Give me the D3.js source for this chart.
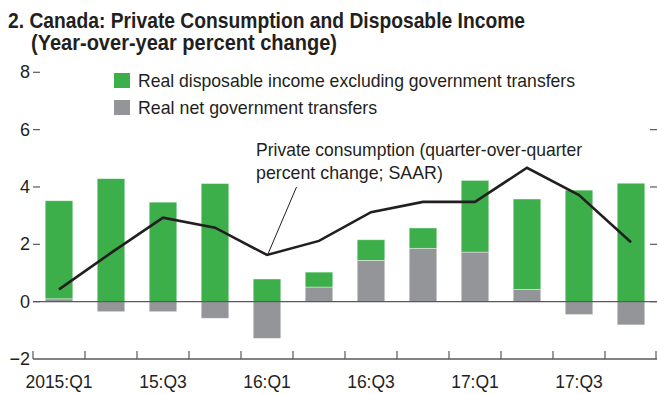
<!DOCTYPE html>
<html><head><meta charset="utf-8">
<script src="https://cdn.jsdelivr.net/npm/d3@7"></script>
<style>
body{margin:0;background:#fff;}
svg{display:block;font-family:"Liberation Sans","Arial",sans-serif;}
</style></head>
<body><svg id="c" width="657" height="394"></svg>
<script>
const categories = ["2015:Q1","15:Q2","15:Q3","15:Q4","16:Q1","16:Q2","16:Q3","16:Q4","17:Q1","17:Q2","17:Q3","17:Q4"];
const tickLabels = ["2015:Q1","","15:Q3","","16:Q1","","16:Q3","","17:Q1","","17:Q3",""];
const incomeExTransfers = [3.42,4.29,3.47,4.12,0.79,0.52,0.72,0.71,2.50,3.15,3.89,4.13];
const netTransfers = [0.10,-0.35,-0.35,-0.58,-1.28,0.51,1.44,1.86,1.73,0.43,-0.45,-0.81];
const consumption = [0.43,1.70,2.93,2.58,1.63,2.12,3.12,3.48,3.48,4.67,3.72,2.07];
const yTicks = [-2,0,2,4,6,8];

const svg = d3.select("#c");
const GREEN="#3cae4a", GRAY="#939598", AXIS="#58595b", INK="#231f20";

const x = d3.scaleBand().domain(categories).range([33,657]).paddingInner(0).paddingOuter(0);
const y = d3.scaleLinear().domain([-2,8]).range([359,72.3]);

// title
svg.append("text").attr("x",8).attr("y",28).attr("font-size",21.5).attr("font-weight","bold").attr("fill",INK)
  .attr("textLength",517).attr("lengthAdjust","spacingAndGlyphs")
  .text("2. Canada: Private Consumption and Disposable Income");
svg.append("text").attr("x",31).attr("y",50).attr("font-size",21.5).attr("font-weight","bold").attr("fill",INK)
  .attr("textLength",306).attr("lengthAdjust","spacingAndGlyphs")
  .text("(Year-over-year percent change)");

// stacked bars
const rows = categories.map((c,i)=>({cat:c, gray:netTransfers[i], green:incomeExTransfers[i]}));
const series = d3.stack().keys(["gray","green"]).offset(d3.stackOffsetDiverging)(rows);
const bw = x.bandwidth()*0.53;
const colors = {gray:GRAY, green:GREEN};
series.forEach(s=>{
  svg.append("g").selectAll("rect").data(s).join("rect")
    .attr("x",d=>x(d.data.cat)+x.bandwidth()/2-bw/2)
    .attr("width",bw)
    .attr("y",d=>y(Math.max(d[0],d[1])))
    .attr("height",d=>Math.abs(y(d[0])-y(d[1])))
    .attr("fill",colors[s.key])
    .attr("stroke","#ffffff").attr("stroke-opacity",0.5).attr("stroke-width",0.8);
});

// zero line
svg.append("line").attr("x1",33).attr("x2",657).attr("y1",y(0)).attr("y2",y(0))
  .attr("stroke",AXIS).attr("stroke-width",1.2);

// y ticks (left labels, inward ticks both sides)
const ya = svg.append("g");
yTicks.forEach(t=>{
  if(t>-2) ya.append("line").attr("x1",33).attr("x2",40).attr("y1",y(t)).attr("y2",y(t)).attr("stroke",AXIS).attr("stroke-width",1.2);
  ya.append("text").attr("x",30).attr("y",y(t)+6).attr("text-anchor","end").attr("font-size",18).attr("fill",INK)
    .text(t<0?"\u2212"+Math.abs(t):t);
  if(t>-2 && t<8) ya.append("line").attr("x1",650).attr("x2",657).attr("y1",y(t)).attr("y2",y(t)).attr("stroke",AXIS).attr("stroke-width",1.2);
});

// x axis
svg.append("line").attr("x1",33).attr("x2",657).attr("y1",y(-2)).attr("y2",y(-2)).attr("stroke",AXIS).attr("stroke-width",1.5);
const edges = categories.map(c=>x(c)).concat([x.range()[1]]);
svg.append("g").selectAll("line").data(edges).join("line")
  .attr("x1",d=>Math.min(d,656)).attr("x2",d=>Math.min(d,656)).attr("y1",y(-2)).attr("y2",y(-2)-8)
  .attr("stroke",AXIS).attr("stroke-width",1.2);
svg.append("g").selectAll("text").data(categories).join("text")
  .attr("x",d=>x(d)+x.bandwidth()/2).attr("y",388).attr("text-anchor","middle").attr("font-size",17.5).attr("fill",INK)
  .text((d,i)=>tickLabels[i]);

// line
const line = d3.line().x((d,i)=>x(categories[i])+x.bandwidth()/2).y(d=>y(d));
svg.append("path").datum(consumption).attr("d",line).attr("fill","none").attr("stroke",INK).attr("stroke-width",2.6).attr("stroke-linejoin","miter");

// legend
const lg = [{label:"Real disposable income excluding government transfers",color:GREEN,w:437},{label:"Real net government transfers",color:GRAY,w:null}];
lg.forEach((l,i)=>{
  svg.append("rect").attr("x",114).attr("y",73+i*27).attr("width",16).attr("height",15).attr("fill",l.color);
  const t = svg.append("text").attr("x",138).attr("y",87+i*27).attr("font-size",17.8).attr("fill",INK).text(l.label);
  if(l.w) t.attr("textLength",l.w).attr("lengthAdjust","spacingAndGlyphs");
});

// annotation
svg.append("text").attr("x",256).attr("y",156).attr("font-size",17.8).attr("fill",INK)
  .attr("textLength",326).attr("lengthAdjust","spacingAndGlyphs").text("Private consumption (quarter-over-quarter");
svg.append("text").attr("x",256).attr("y",179).attr("font-size",17.8).attr("fill",INK).text("percent change; SAAR)");
svg.append("line").attr("x1",296.5).attr("y1",187).attr("x2",x(categories[4])+x.bandwidth()/2+1).attr("y2",y(consumption[4])-1)
  .attr("stroke",INK).attr("stroke-width",1);
</script></body></html>
